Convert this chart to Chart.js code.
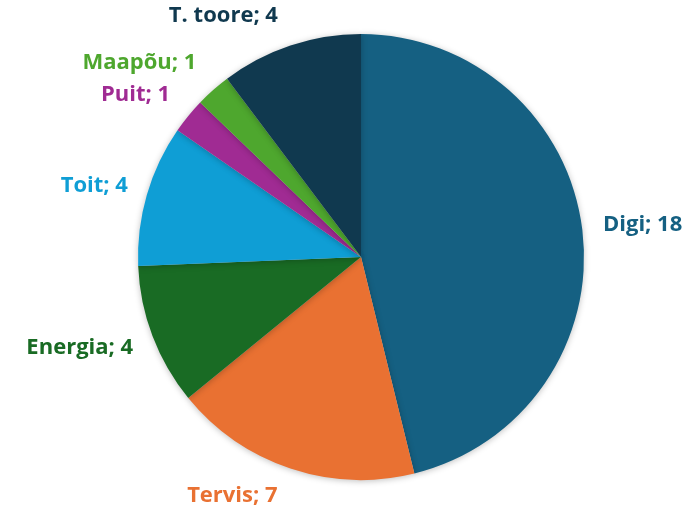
<!DOCTYPE html>
<html>
<head>
<meta charset="utf-8">
<script src="https://cdn.jsdelivr.net/npm/chart.js@4.4.1/dist/chart.umd.min.js"></script>
<style>
  html, body { margin: 0; padding: 0; background: #fff; }
  #wrap { width: 692px; height: 512px; position: relative; }
</style>
</head>
<body>
<div id="wrap"><canvas id="pie-chart"></canvas></div>
<script>
const categories = ['Digi', 'Tervis', 'Energia', 'Toit', 'Puit', 'Maapõu', 'T. toore'];
const counts = [18, 7, 4, 4, 1, 1, 4];
const sliceColors = ['#156082', '#E97132', '#196B24', '#0F9ED5', '#A02B93', '#4EA72E', '#10394F'];

// small nudges so labels sit where the original's best-fit put them
const labelNudge = [[3, -2], [-38, 1], [-6, 2], [-3, -1], [-12, -4], [-24, -6], [-44, -3]];

const LABEL_FONT = 'bold 22px "Open Sans"';

const shadowPlugin = {
  id: 'sliceShadow',
  beforeDatasetsDraw(chart) {
    const ctx = chart.ctx;
    ctx.save();
    ctx.shadowColor = 'rgba(0, 0, 0, 0.25)';
    ctx.shadowBlur = 6;
    ctx.shadowOffsetX = 0;
    ctx.shadowOffsetY = 1;
  },
  afterDatasetsDraw(chart) {
    chart.ctx.restore();
  },
};

const outsideLabels = {
  id: 'outsideLabels',
  afterDraw(chart) {
    const ctx = chart.ctx;
    const meta = chart.getDatasetMeta(0);
    ctx.save();
    ctx.font = LABEL_FONT;
    ctx.textBaseline = 'middle';
    ctx.textAlign = 'center';
    meta.data.forEach((arc, i) => {
      const mid = (arc.startAngle + arc.endAngle) / 2;
      const r = arc.outerRadius + 18;
      const cos = Math.cos(mid);
      const sin = Math.sin(mid);
      const text = `${categories[i]}; ${counts[i]}`;
      const w = ctx.measureText(text).width;
      const x = arc.x + r * cos + (w / 2) * cos + labelNudge[i][0];
      const y = arc.y + r * sin + 10 * sin + labelNudge[i][1];
      ctx.fillStyle = sliceColors[i];
      ctx.fillText(text, x, y);
    });
    ctx.restore();
  },
};

function createChartData() {
  return {
    labels: categories,
    datasets: [
      {
        data: counts,
        backgroundColor: sliceColors,
        borderWidth: 0,
      },
    ],
  };
}

function createChartOptions() {
  return {
    responsive: true,
    maintainAspectRatio: false,
    animation: false,
    layout: {
      padding: { top: 34, bottom: 32, left: 138, right: 108 },
    },
    plugins: {
      legend: { display: false },
      tooltip: { enabled: false },
    },
  };
}

const ctx = document.getElementById('pie-chart').getContext('2d');
new Chart(ctx, {
  type: 'pie',
  data: createChartData(),
  options: createChartOptions(),
  plugins: [shadowPlugin, outsideLabels],
});
</script>
</body>
</html>
